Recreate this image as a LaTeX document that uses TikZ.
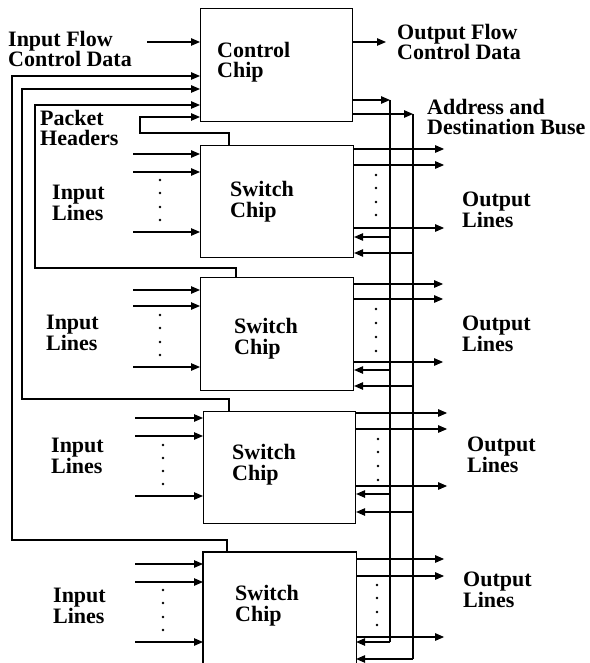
\documentclass[tikz,border=0pt]{standalone}
\usepackage{fontspec}
\setmainfont{Liberation Serif}
\newfontfamily\lserif{Liberation Serif}
\usetikzlibrary{arrows.meta,calc}
\begin{document}
\begin{tikzpicture}[x=1pt,y=-1pt,
  ln/.style={line width=1.1pt},
  arr/.style={ln,-{Triangle[length=9pt,width=7.5pt]}},
  chip/.style={draw,line width=1.1pt,rectangle,anchor=north west,inner sep=0pt},
  lbl/.style={anchor=base west,inner sep=0pt,align=left,font=\lserif\fontsize{22}{20.5}\selectfont\bfseries}]
\useasboundingbox (0,0) rectangle (589,663);

% chips
\node[chip,minimum width=152pt,minimum height=113pt] (c) at (200,8) {};
\node[chip,minimum width=153pt,minimum height=112pt] (s1) at (200,145) {};
\node[chip,minimum width=153pt,minimum height=113pt] (s2) at (200,277) {};
\node[chip,minimum width=152pt,minimum height=112pt] (s3) at (203,411) {};
\node[chip,draw=none,minimum width=152pt,minimum height=111pt] (s4) at (203,552) {};
\draw[ln] (s4.south west) -- (s4.north west) -- (s4.north east) -- (s4.south east);

% labels (anchor = baseline of the last line)
\node[lbl] (tin) at (8,67) {Input Flow\\Control Data};
\node[lbl] (tc) at (217,78) {Control\\Chip};
\node[lbl] (tout) at (397,60) {Output Flow\\Control Data};
\node[lbl] (taddr) at (427,135) {Address and\\Destination Buse};
\node[lbl] (tph) at (40,146) {Packet\\Headers};
\node[lbl] (ti1) at (52,220) {Input\\Lines};
\node[lbl] (ti2) at (46,350) {Input\\Lines};
\node[lbl] (ti3) at (51,473) {Input\\Lines};
\node[lbl] (ti4) at (53,623) {Input\\Lines};
\node[lbl] (ts1) at (230,217) {Switch\\Chip};
\node[lbl] (ts2) at (234,354) {Switch\\Chip};
\node[lbl] (ts3) at (232,480) {Switch\\Chip};
\node[lbl] (ts4) at (235,621) {Switch\\Chip};
\node[lbl] (to1) at (462,227) {Output\\Lines};
\node[lbl] (to2) at (462,351) {Output\\Lines};
\node[lbl] (to3) at (467,472) {Output\\Lines};
\node[lbl] (to4) at (463,607) {Output\\Lines};

% flow control
\coordinate (ifs) at (147,42);
\draw[arr] (ifs) -- (ifs -| c.west);
\coordinate (ofe) at (386,42);
\draw[arr] (ofe -| c.east) -- (ofe);

% buses
\coordinate (b1t) at (390,100); \coordinate (b1b) at (390,642);
\coordinate (b2t) at (413,114); \coordinate (b2b) at (413,659);
\draw[arr] (b1t -| c.east) -- (b1t); \draw[ln] (b1t) -- (b1b);
\draw[arr] (b2t -| c.east) -- (b2t); \draw[ln] (b2t) -- (b2b);

% packet header loops
\coordinate (k1) at (140,133); \coordinate (k1t) at (140,117);
\coordinate (k2) at (35,268);  \coordinate (k2t) at (35,105);
\coordinate (k3) at (22,399);  \coordinate (k3t) at (22,89);
\coordinate (k4) at (12,540);  \coordinate (k4t) at (12,76);
\draw[arr] ($(s1.north west)+(29,0)$) |- (k1) |- (k1t -| c.west);
\draw[arr] ($(s2.north west)+(36,0)$) |- (k2) |- (k2t -| c.west);
\draw[arr] ($(s3.north west)+(26,0)$) |- (k3) |- (k3t -| c.west);
\draw[arr] ($(s4.north west)+(24,0)$) |- (k4) |- (k4t -| c.west);

% input lines
\foreach \d in {9,27,87} \draw[arr] ($(s1.north west)+(-67,\d)$) -- ++(67,0);
\foreach \d in {13,29,90} \draw[arr] ($(s2.north west)+(-67,\d)$) -- ++(67,0);
\foreach \d in {7,25,85} \draw[arr] ($(s3.north west)+(-68,\d)$) -- ++(68,0);
\foreach \d in {12,30,90} \draw[arr] ($(s4.north west)+(-68,\d)$) -- ++(68,0);

% output lines
\foreach \d in {4,20,83} \draw[arr] ($(s1.north east)+(0,\d)$) -- ++(90,0);
\foreach \d in {7,22,85} \draw[arr] ($(s2.north east)+(0,\d)$) -- ++(89,0);
\foreach \d in {2,18,75} \draw[arr] ($(s3.north east)+(0,\d)$) -- ++(91,0);
\foreach \d in {7,24,85} \draw[arr] ($(s4.north east)+(0,\d)$) -- ++(88,0);

% returns from buses
\coordinate (r11) at ($(s1.north east)+(0,92)$);  \coordinate (r12) at ($(s1.north east)+(0,108)$);
\coordinate (r21) at ($(s2.north east)+(0,93)$);  \coordinate (r22) at ($(s2.north east)+(0,109)$);
\coordinate (r31) at ($(s3.north east)+(0,83)$);  \coordinate (r32) at ($(s3.north east)+(0,101)$);
\coordinate (r41) at ($(s4.north east)+(0,90)$);  \coordinate (r42) at ($(s4.north east)+(0,107)$);
\foreach \i in {1,2,3,4} {
  \draw[arr] (b1t |- r\i1) -- (r\i1);
  \draw[arr] (b2t |- r\i2) -- (r\i2);
}

% dots
\foreach \y in {180,193,207,220,315,328,342,355} \fill (160,\y) circle (1.3pt);
\foreach \y in {445,458,471,484,590,603,617,630} \fill (163,\y) circle (1.3pt);
\foreach \y in {175,188,202,215,309,323,337,351} \fill (376,\y) circle (1.3pt);
\foreach \y in {439,452,466,480} \fill (378,\y) circle (1.3pt);
\foreach \y in {585,598,612,625} \fill (377,\y) circle (1.3pt);
\end{tikzpicture}
\end{document}
